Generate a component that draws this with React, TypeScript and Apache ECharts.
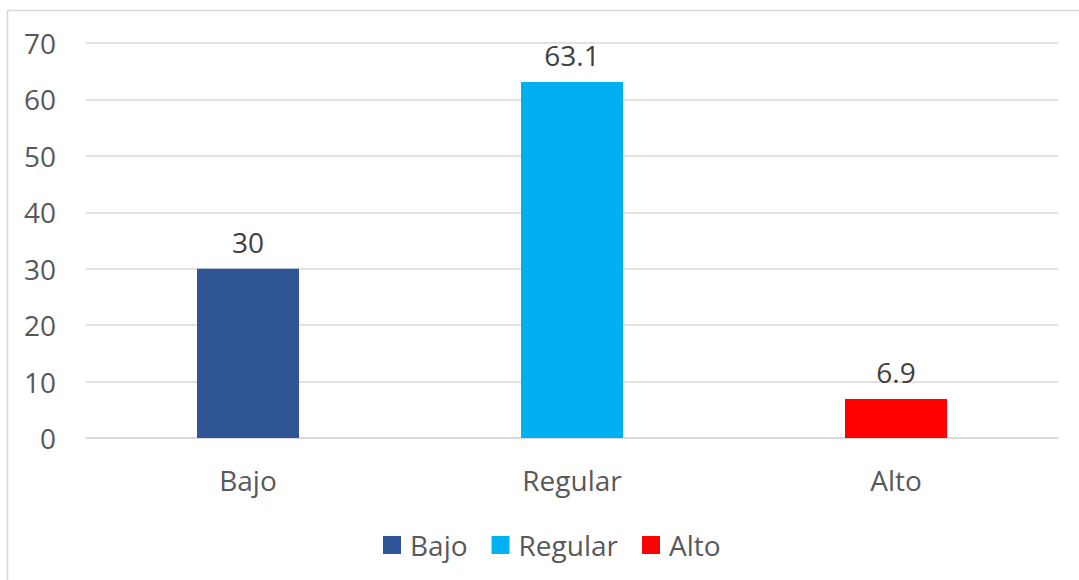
import React, { useEffect, useRef } from "react";
import * as echarts from "echarts";

const categories = ["Bajo", "Regular", "Alto"];
const values = [30, 63.1, 6.9];
const colors = ["#2F5597", "#00B0F0", "#FF0000"];
const yTicks = { min: 0, max: 70, interval: 10 };

export default function App() {
  const ref = useRef<HTMLDivElement>(null);
  useEffect(() => {
    if (!ref.current) return;
    const chart = echarts.init(ref.current, null, { renderer: "svg" });
    const font = "'Open Sans', 'Noto Sans', sans-serif";
    const fs = 28;
    const series = categories.map((name, i) => ({
      name,
      type: "bar",
      stack: "all",
      barWidth: 102,
      itemStyle: { color: colors[i] },
      label: {
        show: true,
        position: "top",
        distance: 13,
        color: "#404040",
        fontSize: fs,
        fontFamily: font,
      },
      data: categories.map((_, j) => (j === i ? values[i] : "-")),
    }));
    chart.setOption({
      animation: false,
      backgroundColor: "#ffffff",
      textStyle: { fontFamily: font },
      graphic: [
        {
          type: "rect",
          shape: { x: 7.5, y: 10.5, width: 1090, height: 600 },
          style: { fill: "none", stroke: "#D9D9D9", lineWidth: 1.5 },
          silent: true,
        },
      ],
      grid: { left: 86, right: 21, top: 43, bottom: 142 },
      legend: {
        left: 378,
        top: 526,
        itemWidth: 18,
        itemHeight: 18,
        itemGap: 24,
        icon: "rect",
        textStyle: { color: "#595959", fontSize: fs, fontFamily: font, padding: [0, 0, 0, 4] },
        data: categories,
      },
      xAxis: {
        type: "category",
        data: categories,
        axisLine: { show: true, lineStyle: { color: "#D9D9D9", width: 1.5 } },
        axisTick: { show: false },
        axisLabel: { color: "#595959", fontSize: fs, fontFamily: font, margin: 28 },
      },
      yAxis: {
        type: "value",
        min: yTicks.min,
        max: yTicks.max,
        interval: yTicks.interval,
        axisLine: { show: false },
        axisTick: { show: false },
        splitLine: { lineStyle: { color: "#D9D9D9", width: 1.5 } },
        axisLabel: { color: "#595959", fontSize: fs, fontFamily: font, margin: 30 },
      },
      series,
    });
    return () => chart.dispose();
  }, []);
  return (
    <div
      ref={ref}
      style={{ position: "fixed", left: 0, top: 0, width: 1079, height: 580 }}
    />
  );
}
